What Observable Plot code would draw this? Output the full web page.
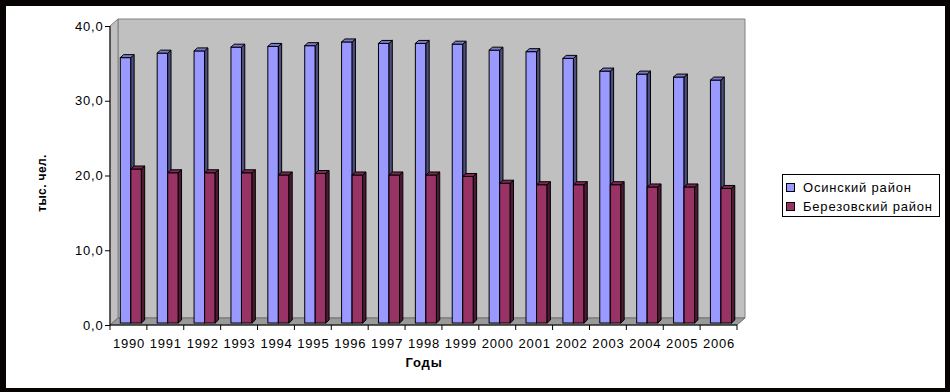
<!DOCTYPE html>
<html><head><meta charset="utf-8">
<script src="https://cdn.jsdelivr.net/npm/d3@7"></script>
<script src="https://cdn.jsdelivr.net/npm/@observablehq/plot@0.6"></script>
<style>
html,body{margin:0;padding:0;background:#070303;width:950px;height:392px;overflow:hidden;}
#frame{position:absolute;left:6px;top:6px;width:939px;height:382px;background:#fff;overflow:hidden;font-family:"Liberation Sans",Arial,sans-serif;}
#chart{position:absolute;left:0;top:0;}
#ylab{position:absolute;left:29px;top:127px;width:14px;height:100px;overflow:visible;}
#ylab span{position:absolute;left:-43px;top:43px;width:100px;text-align:center;font-size:12px;font-weight:bold;letter-spacing:0.4px;transform:rotate(-90deg);transform-origin:50% 50%;white-space:nowrap;line-height:14px;}
#legend{position:absolute;left:776px;top:168px;width:156px;height:41px;border:1px solid #000;background:#fff;font-size:13px;letter-spacing:0.8px;}
.item{position:absolute;left:3px;height:14px;line-height:14px;white-space:nowrap;}
.sw{display:inline-block;width:7px;height:7px;border:1px solid #000;margin-right:8px;vertical-align:0px;}
</style></head><body>
<div id="frame"><div id="chart"></div><div id="ylab"><span>тыс. чел.</span></div><div id="legend"></div></div>
<script>
const years = ["1990","1991","1992","1993","1994","1995","1996","1997","1998","1999","2000","2001","2002","2003","2004","2005","2006"];
const osinsky = [35.5,36.1,36.4,36.9,37.0,37.1,37.6,37.4,37.4,37.3,36.5,36.3,35.4,33.7,33.3,32.9,32.5];
const berezovsky = [20.6,20.1,20.1,20.1,19.8,20.0,19.8,19.8,19.8,19.6,18.7,18.5,18.5,18.5,18.2,18.2,18.0];
const seriesNames = ["Осинский район","Березовский район"];
const yTicks = [0,10,20,30,40];
const xTitle = "Годы";

const W = 939, H = 382, ML = 104, MR = 208, MT = 20, MB = 63;
const bw = (W - ML - MR) / years.length;
const barW = bw / 3.5;
const gap = (bw - 2 * barW) / 2;
const wallDX = 8, wallDY = -7;
const barDX = 2.4, barDY = -2, faceDX = 3.3, faceDY = -3;

const colors = [
  {front: "#9999ff", side: "#4d4d80", top: "#7a7acc"},
  {front: "#993366", side: "#4d1a33", top: "#7a2952"}
];

const dataA = years.map((y, i) => ({year: y, value: osinsky[i]}));
const dataB = years.map((y, i) => ({year: y, value: berezovsky[i]}));

function walls(index, scales, values, dim) {
  const g = d3.create("svg:g");
  const x0 = dim.marginLeft, x1 = dim.width - dim.marginRight;
  const yT = scales.y(yTicks[yTicks.length - 1]), yB = scales.y(0);
  const pts = a => a.map(p => p.join(",")).join(" ");
  g.append("polygon").attr("points", pts([[x0 + wallDX, yT + wallDY], [x1 + wallDX, yT + wallDY], [x1 + wallDX, yB + wallDY], [x0 + wallDX, yB + wallDY]]))
    .attr("fill", "#c0c0c0").attr("stroke", "#808080");
  g.append("polygon").attr("points", pts([[x0, yT], [x0 + wallDX, yT + wallDY], [x0 + wallDX, yB + wallDY], [x0, yB]]))
    .attr("fill", "#c0c0c0").attr("stroke", "#808080");
  g.append("polygon").attr("points", pts([[x0, yB], [x1, yB], [x1 + wallDX, yB + wallDY], [x0 + wallDX, yB + wallDY]]))
    .attr("fill", "#9a9a9a").attr("stroke", "#707070");
  return g.node();
}

function faces(data, inset, col) {
  return (index, scales, values, dim) => {
    const g = d3.create("svg:g").attr("stroke", "#000").attr("stroke-width", 1).attr("stroke-linejoin", "round");
    const yB = scales.y(0) + barDY;
    for (const d of data) {
      const xl = scales.x(d.year) + inset + barDX, xr = xl + barW;
      const yt = scales.y(d.value) + barDY;
      const pts = a => a.map(p => p.join(",")).join(" ");
      g.append("polygon").attr("fill", col.side)
        .attr("points", pts([[xr, yt], [xr + faceDX, yt + faceDY], [xr + faceDX, yB + faceDY], [xr, yB]]));
      g.append("polygon").attr("fill", col.top)
        .attr("points", pts([[xl, yt], [xl + faceDX, yt + faceDY], [xr + faceDX, yt + faceDY], [xr, yt]]));
    }
    return g.node();
  };
}

function axes(index, scales, values, dim) {
  const g = d3.create("svg:g").attr("stroke", "#000").attr("stroke-width", 1);
  const x0 = dim.marginLeft, x1 = dim.width - dim.marginRight;
  const yT = scales.y(yTicks[yTicks.length - 1]), yB = scales.y(0);
  g.append("line").attr("x1", x0).attr("x2", x0).attr("y1", yT).attr("y2", yB);
  g.append("line").attr("x1", x0).attr("x2", x1).attr("y1", yB).attr("y2", yB);
  for (let i = 0; i <= years.length; i++) {
    const x = i < years.length ? scales.x(years[i]) : x1;
    g.append("line").attr("x1", x).attr("x2", x).attr("y1", yB).attr("y2", yB + 5);
  }
  return g.node();
}

const chart = Plot.plot({
  width: W, height: H,
  marginLeft: ML, marginRight: MR, marginTop: MT, marginBottom: MB,
  style: {fontFamily: "'Liberation Sans', Arial, sans-serif", fontSize: "13px", background: "transparent", letterSpacing: "0.8px", color: "#000"},
  x: {type: "band", domain: years, padding: 0, round: false, axis: null},
  y: {domain: [0, 40], axis: null},
  marks: [
    walls,
    Plot.barY(dataA, {x: "year", y: "value", fill: colors[0].front, stroke: "#000", strokeWidth: 1, insetLeft: gap, insetRight: bw - gap - barW, dx: barDX, dy: barDY}),
    faces(dataA, gap, colors[0]),
    Plot.barY(dataB, {x: "year", y: "value", fill: colors[1].front, stroke: "#000", strokeWidth: 1, insetLeft: gap + barW, insetRight: gap, dx: barDX, dy: barDY}),
    faces(dataB, gap + barW, colors[1]),
    axes,
    Plot.axisY({ticks: yTicks, tickFormat: d => d.toFixed(1).replace(".", ","), tickSize: 5, tickPadding: 2, fontSize: 13, label: null}),
    Plot.axisX({tickSize: 0, tickPadding: 13, fontSize: 13, label: null}),
    Plot.text([xTitle], {frameAnchor: "bottom", dy: 41, fontWeight: "bold", fontSize: 13})
  ]
});
document.getElementById("chart").appendChild(chart);

const legend = document.getElementById("legend");
seriesNames.forEach((n, i) => {
  const it = document.createElement("div");
  it.className = "item";
  it.style.top = (6 + i * 19) + "px";
  it.innerHTML = `<span class="sw" style="background:${colors[i].front}"></span>${n}`;
  legend.appendChild(it);
});
</script>
</body></html>
